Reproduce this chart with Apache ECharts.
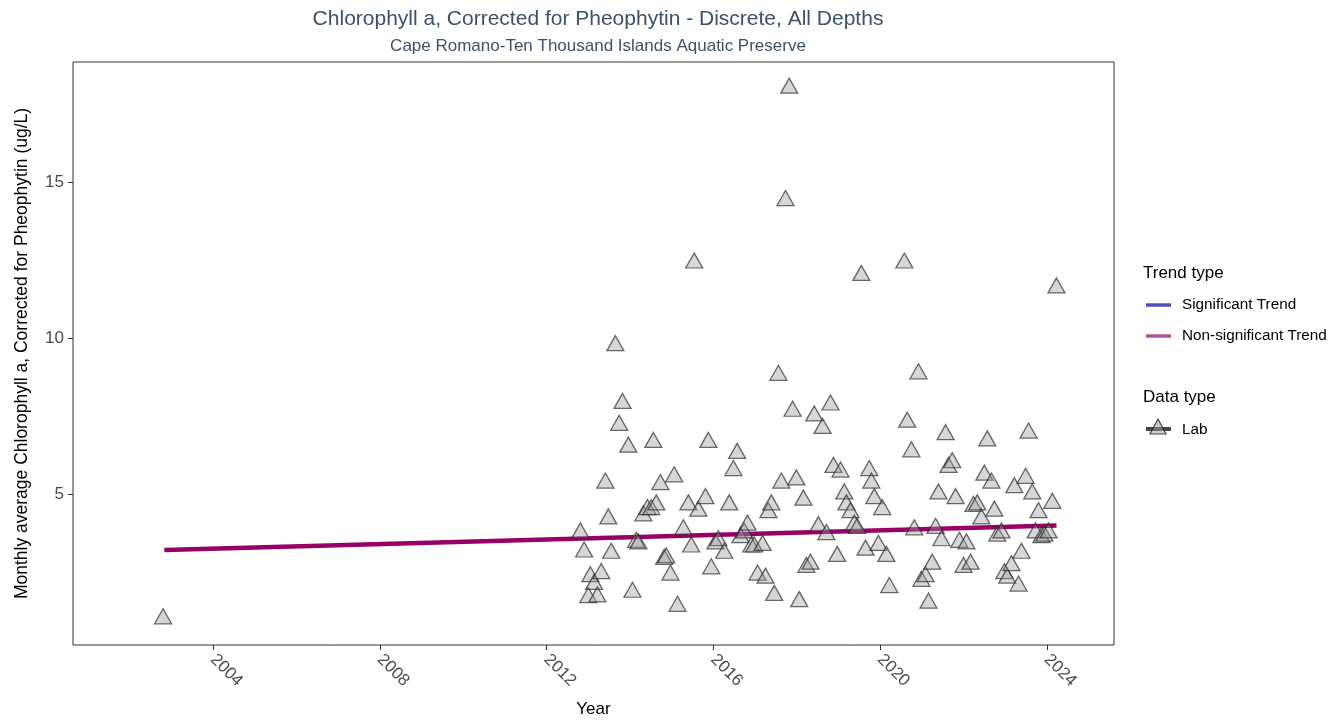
<!DOCTYPE html>
<html>
<head>
<meta charset="utf-8">
<script src="https://cdn.jsdelivr.net/npm/echarts@6/dist/echarts.min.js"></script>
<style>
html,body{margin:0;padding:0;background:#fff;}
#chart{width:1340px;height:723px;}
</style>
</head>
<body>
<div id="chart"></div>
<script>
// ---- Data ----
const titleText = "Chlorophyll a, Corrected for Pheophytin - Discrete, All Depths";
const subtitleText = "Cape Romano-Ten Thousand Islands Aquatic Preserve";
const xAxisTitle = "Year";
const yAxisTitle = "Monthly average Chlorophyll a, Corrected for Pheophytin (ug/L)";
const xTicks = [2004, 2008, 2012, 2016, 2020, 2024];
const yTicks = [5, 10, 15];

const labYears = [
  2002.80,
  2012.81, 2012.90, 2013.05, 2013.00, 2013.14, 2013.22, 2013.31, 2013.41, 2013.48, 2013.55,
  2013.65, 2013.74, 2013.82, 2013.96, 2014.06, 2014.15, 2014.20, 2014.32, 2014.42, 2014.51,
  2014.56, 2014.63, 2014.73, 2014.82, 2014.87, 2014.97, 2015.06, 2015.14, 2015.28, 2015.40,
  2015.47, 2015.54, 2015.64, 2015.81, 2015.88, 2015.95, 2016.05, 2016.12, 2016.26, 2016.38,
  2016.48, 2016.57, 2016.65, 2016.74, 2016.82, 2016.91, 2016.98, 2017.06, 2017.18, 2017.25,
  2017.32, 2017.39, 2017.46, 2017.56, 2017.63, 2017.73, 2017.82, 2017.90, 2017.99, 2018.06,
  2018.16, 2018.23, 2018.33, 2018.42, 2018.52, 2018.62, 2018.71, 2018.81, 2018.88, 2018.97,
  2019.05, 2019.14, 2019.19, 2019.29, 2019.38, 2019.45, 2019.55, 2019.65, 2019.74, 2019.79,
  2019.86, 2019.96, 2020.05, 2020.15, 2020.22, 2020.58, 2020.65, 2020.75, 2020.82, 2020.92,
  2020.99, 2021.09, 2021.16, 2021.25, 2021.33, 2021.40, 2021.47, 2021.57, 2021.64, 2021.73,
  2021.81, 2021.90, 2022.00, 2022.07, 2022.17, 2022.24, 2022.33, 2022.43, 2022.50, 2022.57,
  2022.67, 2022.74, 2022.81, 2022.91, 2022.98, 2023.05, 2023.15, 2023.22, 2023.32, 2023.39,
  2023.49, 2023.56, 2023.65, 2023.73, 2023.80, 2023.87, 2023.94, 2024.04, 2024.13, 2024.23
];
const labValues = [
  1.10,
  3.85, 3.24, 2.45, 1.78, 2.20, 1.80, 2.55, 5.45, 4.30, 3.20,
  9.85, 7.30, 8.00, 6.60, 1.95, 3.55, 3.50, 4.40, 4.60, 4.60,
  6.75, 4.75, 5.40, 3.00, 3.05, 2.50, 5.65, 1.50, 3.95, 4.75,
  3.40, 12.50, 4.55, 4.95, 6.75, 2.70, 3.50, 3.60, 3.20, 4.75,
  5.85, 6.40, 3.70, 3.85, 4.10, 3.40, 3.40, 2.50, 3.45, 2.40,
  4.50, 4.75, 1.85, 8.90, 5.45, 14.50, 18.10, 7.75, 5.55, 1.65,
  4.90, 2.75, 2.85, 7.60, 4.05, 7.20, 3.80, 7.95, 5.95, 3.10,
  5.80, 5.10, 4.75, 4.50, 4.10, 4.00, 12.10, 3.30, 5.85, 5.45,
  4.95, 3.45, 4.60, 3.10, 2.10, 12.50, 7.40, 6.45, 3.95, 8.95,
  2.30, 2.45, 1.60, 2.85, 4.00, 5.10, 3.60, 7.00, 5.95, 6.10,
  4.95, 3.55, 2.75, 3.50, 2.85, 4.70, 4.75, 4.30, 5.70, 6.80,
  5.45, 4.55, 3.75, 3.85, 2.55, 2.40, 2.80, 5.30, 2.15, 3.20,
  5.60, 7.05, 5.10, 3.85, 4.50, 3.70, 3.75, 3.85, 4.80, 11.70
];
const trendYears = [2002.83, 2024.23];
const trendValues = [3.22, 4.01];

const legendTrendTitle = "Trend type";
const legendTrendLabels = ["Significant Trend", "Non-significant Trend"];
const legendDataTitle = "Data type";
const legendDataLabels = ["Lab"];

// ---- Chart ----
const chart = echarts.init(document.getElementById('chart'), null, {renderer: 'canvas'});
const FONT = 'Liberation Sans, Arial, sans-serif';

const scatterData = labYears.map((x, i) => [x, labValues[i]]);
const trendData = trendYears.map((x, i) => [x, trendValues[i]]);

const option = {
  animation: false,
  backgroundColor: '#ffffff',
  title: [
    {text: titleText, left: 593, top: 4, textAlign: 'center',
     textStyle: {fontFamily: FONT, fontSize: 21, fontWeight: 'normal', color: '#3e5169'}},
    {text: subtitleText, left: 593, top: 33, textAlign: 'center',
     textStyle: {fontFamily: FONT, fontSize: 17, fontWeight: 'normal', color: '#3e5169'}}
  ],
  grid: {left: 73, right: 226, top: 62, bottom: 76, show: true,
         borderColor: '#333333', borderWidth: 1, backgroundColor: 'transparent'},
  xAxis: {
    type: 'value', min: 2000.64, max: 2025.61,
    name: xAxisTitle, nameLocation: 'middle', nameGap: 56,
    nameTextStyle: {fontFamily: FONT, fontSize: 17, color: '#000'},
    axisLine: {show: false},
    splitLine: {show: false},
    axisTick: {show: true, customValues: xTicks, length: 5, lineStyle: {color: '#333', width: 1}},
    axisLabel: {show: true, customValues: xTicks, rotate: -45, margin: 12,
                formatter: v => String(Math.round(v)),
                fontFamily: FONT, fontSize: 17, color: '#4d4d4d'}
  },
  yAxis: {
    type: 'value', min: 0.18, max: 18.86,
    name: yAxisTitle, nameLocation: 'middle', nameGap: 42, nameRotate: 90,
    nameTextStyle: {fontFamily: FONT, fontSize: 17.5, color: '#000'},
    axisLine: {show: false},
    splitLine: {show: false},
    axisTick: {show: true, customValues: yTicks, length: 5, lineStyle: {color: '#333', width: 1}},
    axisLabel: {show: true, customValues: yTicks, margin: 9,
                formatter: v => String(Math.round(v)),
                fontFamily: FONT, fontSize: 17, color: '#4d4d4d'}
  },
  series: [
    {
      type: 'line', name: 'trend', data: trendData, showSymbol: false, symbol: 'none',
      lineStyle: {color: '#990066', width: 4.5}, z: 2, silent: true
    },
    {
      type: 'scatter', name: 'Lab', data: scatterData, symbol: 'triangle', symbolSize: [17, 15],
      itemStyle: {color: 'rgba(155,155,155,0.5)', borderColor: 'rgba(40,40,40,0.85)', borderWidth: 1.3},
      z: 3, silent: true
    }
  ],
  graphic: [
    {type: 'text', left: 1143, top: 265, style: {text: legendTrendTitle, fontFamily: FONT, fontSize: 17, fill: '#000'}},
    {type: 'line', shape: {x1: 1146, y1: 305, x2: 1171, y2: 305}, style: {stroke: '#4f4fc4', lineWidth: 3.5}},
    {type: 'text', left: 1182, top: 297, style: {text: legendTrendLabels[0], fontFamily: FONT, fontSize: 15.3, fill: '#000'}},
    {type: 'line', shape: {x1: 1146, y1: 336, x2: 1171, y2: 336}, style: {stroke: '#b0509b', lineWidth: 3.5}},
    {type: 'text', left: 1182, top: 328, style: {text: legendTrendLabels[1], fontFamily: FONT, fontSize: 15.3, fill: '#000'}},
    {type: 'text', left: 1143, top: 389, style: {text: legendDataTitle, fontFamily: FONT, fontSize: 17, fill: '#000'}},
    {type: 'line', shape: {x1: 1146, y1: 429, x2: 1171, y2: 429}, style: {stroke: '#444', lineWidth: 4}},
    {type: 'polygon', shape: {points: [[1158, 419], [1150, 434], [1166, 434]]},
     style: {fill: 'rgba(155,155,155,0.5)', stroke: 'rgba(40,40,40,0.85)', lineWidth: 1.2}},
    {type: 'text', left: 1182, top: 422, style: {text: legendDataLabels[0], fontFamily: FONT, fontSize: 15.3, fill: '#000'}}
  ]
};
chart.setOption(option);
</script>
</body>
</html>
